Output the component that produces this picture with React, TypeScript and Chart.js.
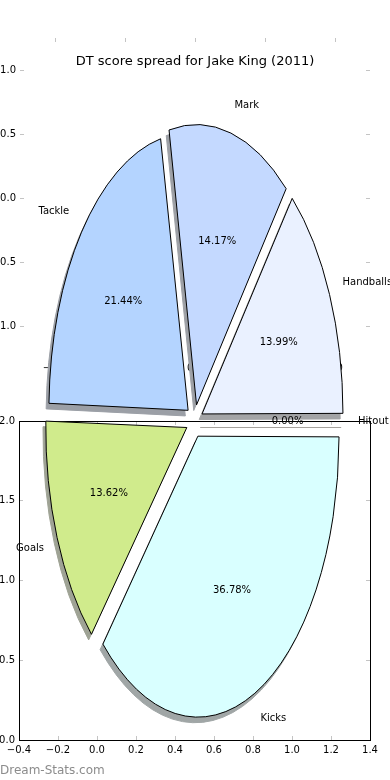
import React, { useEffect, useRef } from "react";
import { Chart, registerables } from "chart.js";

Chart.register(...registerables);

// ---------------- data ----------------
const categories = ["Hitout", "Kicks", "Goals", "Tackle", "Mark", "Handballs"];
const shares = [0.0, 36.78, 13.62, 21.44, 14.17, 13.99];
const sliceColors = ["#ffe4c4", "#d9ffff", "#d0eb8c", "#b4d4ff", "#c4d9ff", "#eaf1ff"];
const explodeFraction = [0.06, 0.06, 0.06, 0.06, 0.06, 0.06];
const chartTitle = "DT score spread for Jake King (2011)";
const watermark = "Dream-Stats.com";
const lowerXTicks = [-0.4, -0.2, 0.0, 0.2, 0.4, 0.6, 0.8, 1.0, 1.2, 1.4];
const lowerYTicks = [0.0, 0.5, 1.0, 1.5, 2.0];
const upperTicks = [-1.0, -0.5, 0.0, 0.5, 1.0];

// ---------------- layout / style ----------------
const W = 390;
const H = 780;
const FONT = '"DejaVu Sans", "Liberation Sans", sans-serif';
const PIE_R = 139;
const TEXT_R_EXTRA = 2; // chart.js grows exploded arcs by ~2px; texts use the visual radius
const K = 1.99; // vertical stretch of the pie
const OFFSET_DIV = 4; // chart.js arc offset -> translation divisor
const TICK_GRAY = "#c4c4c4";

function fmt(v: number): string {
  const r = Math.round(v * 10) / 10;
  const a = Math.abs(r) < 1e-9 ? 0 : r;
  return (a < 0 ? "\u2212" : "") + Math.abs(a).toFixed(1);
}

function shade(hex: string): string {
  const n = parseInt(hex.slice(1), 16);
  const c = [(n >> 16) & 255, (n >> 8) & 255, n & 255].map((v) => Math.round(127.5 + 0.15 * v));
  return `rgb(${c[0]},${c[1]},${c[2]})`;
}

function makeScale(position: string, min: number, max: number, tickVals: number[], showLabels: boolean, size: number, border: boolean) {
  const horizontal = position === "top" || position === "bottom";
  return {
    type: "linear",
    position,
    min,
    max,
    afterBuildTicks: (s: any) => {
      s.ticks = tickVals.map((v) => ({ value: v }));
    },
    ticks: {
      display: showLabels,
      callback: (v: any) => fmt(Number(v)),
      font: { family: FONT, size: 10 },
      color: "#000",
      padding: horizontal ? 8 : 8,
      maxRotation: 0,
      minRotation: 0,
      autoSkip: false,
    },
    grid: { drawOnChartArea: false, drawTicks: true, tickLength: -4, tickColor: TICK_GRAY, tickWidth: 1 },
    border: { display: border, color: "#000", width: 1 },
    afterFit: (s: any) => {
      if (horizontal) s.height = size;
      else s.width = size;
      s.paddingLeft = 0;
      s.paddingRight = 0;
      s.paddingTop = 0;
      s.paddingBottom = 0;
    },
  };
}

function axesConfig(
  xr: [number, number],
  yr: [number, number],
  xt: number[],
  yt: number[],
  pad: { top: number; bottom: number; left: number; right: number },
  xh: number,
  yw: number,
  border: boolean
): any {
  return {
    type: "scatter",
    data: { datasets: [] },
    options: {
      responsive: false,
      animation: false,
      devicePixelRatio: 1,
      events: [],
      layout: { padding: pad, autoPadding: false },
      plugins: { legend: { display: false }, tooltip: { enabled: false }, title: { display: false } },
      scales: {
        x: makeScale("bottom", xr[0], xr[1], xt, true, xh, border),
        x2: makeScale("top", xr[0], xr[1], xt, false, 0, border),
        y: makeScale("left", yr[0], yr[1], yt, true, yw, border),
        y2: makeScale("right", yr[0], yr[1], yt, false, 0, border),
      },
    },
  };
}

// stretch the pie vertically while keeping stroke widths uniform
const stretchPlugin = {
  id: "stretch",
  beforeDatasetsDraw(chart: any) {
    const ctx = chart.ctx;
    const el = chart.getDatasetMeta(0).data[0];
    if (!el) return;
    const base = ctx.getTransform();
    ctx.save();
    ctx.translate(el.x, el.y);
    ctx.scale(1, K);
    ctx.translate(-el.x, -el.y);
    const orig = Object.getPrototypeOf(ctx).stroke;
    ctx.stroke = function (...args: any[]) {
      this.save();
      this.setTransform(base);
      orig.apply(this, args);
      this.restore();
    };
  },
  afterDatasetsDraw(chart: any) {
    const ctx = chart.ctx;
    delete ctx.stroke;
    ctx.restore();
  },
};

function overlayPlugin(withText: boolean, lineColors: string[]) {
  return {
    id: "pieOverlay" + (withText ? "Main" : "Shadow"),
    afterDatasetsDraw(chart: any) {
      const ctx = chart.ctx;
      const meta = chart.getDatasetMeta(0);
      const total = shares.reduce((a, b) => a + b, 0);
      ctx.save();
      meta.data.forEach((arc: any, i: number) => {
        const { x, y, startAngle, endAngle } = arc;
        const r = arc.outerRadius + TEXT_R_EXTRA;
        const mid = (startAngle + endAngle) / 2;
        const c = Math.cos(mid);
        const s = Math.sin(mid);
        const e = explodeFraction[i] * r;
        const ex = x + c * e;
        const ey = y + s * e * K;
        if (Math.abs(endAngle - startAngle) < 1e-9) {
          ctx.strokeStyle = lineColors[i];
          ctx.lineWidth = 1;
          ctx.beginPath();
          ctx.moveTo(ex, Math.round(ey) + 0.5);
          ctx.lineTo(ex + r * c, Math.round(ey + r * s * K) + 0.5);
          ctx.stroke();
        }
        if (!withText) return;
        ctx.fillStyle = "#000";
        ctx.font = `10px ${FONT}`;
        ctx.textBaseline = "middle";
        ctx.textAlign = c > 1e-9 ? "left" : "right";
        ctx.fillText(categories[i], ex + 1.1 * r * c, ey + 1.1 * r * s * K);
        ctx.textAlign = "center";
        ctx.fillText(((shares[i] / total) * 100).toFixed(2) + "%", ex + 0.6 * r * c, ey + 0.6 * r * s * K);
      });
      if (withText) {
        ctx.fillStyle = "#000";
        ctx.font = `13px ${FONT}`;
        ctx.textAlign = "center";
        ctx.textBaseline = "middle";
        ctx.fillText(chartTitle, 195, 62);
        ctx.fillStyle = "#8c8c8c";
        ctx.font = `12px ${FONT}`;
        ctx.textAlign = "left";
        ctx.textBaseline = "alphabetic";
        ctx.fillText(watermark, 0, 774);
      }
      ctx.restore();
    },
  };
}

function pieConfig(colors: string[], border: string[], pad: any, withText: boolean): any {
  return {
    type: "pie",
    data: {
      labels: categories,
      datasets: [
        {
          data: shares,
          backgroundColor: colors,
          borderColor: border,
          borderWidth: 1,
          borderJoinStyle: "miter",
          offset: explodeFraction.map((f) => f * PIE_R * OFFSET_DIV),
          hoverOffset: 0,
          clip: false,
        },
      ],
    },
    options: {
      responsive: false,
      animation: false,
      devicePixelRatio: 1,
      events: [],
      rotation: 90,
      radius: PIE_R,
      layout: { padding: pad, autoPadding: false },
      plugins: { legend: { display: false }, tooltip: { enabled: false }, title: { display: false } },
    },
    plugins: [stretchPlugin, overlayPlugin(withText, border)],
  };
}

export default function App() {
  const ghostRef = useRef<HTMLCanvasElement>(null);
  const lowerRef = useRef<HTMLCanvasElement>(null);
  const shadowRef = useRef<HTMLCanvasElement>(null);
  const pieRef = useRef<HTMLCanvasElement>(null);

  useEffect(() => {
    const charts: Chart[] = [];
    charts.push(
      new Chart(
        ghostRef.current as HTMLCanvasElement,
        axesConfig([-1.25, 1.25], [-1.25, 1.25], upperTicks, upperTicks, { top: 38, bottom: 392, left: 0, right: 20 }, 30, 20, false)
      )
    );
    charts.push(
      new Chart(
        lowerRef.current as HTMLCanvasElement,
        axesConfig([-0.4, 1.4], [0, 2], lowerXTicks, lowerYTicks, { top: 421, bottom: 0, left: 0, right: 20 }, 40, 19, true)
      )
    );
    const shadowCols = sliceColors.map(shade);
    charts.push(
      new Chart(
        shadowRef.current as HTMLCanvasElement,
        pieConfig(shadowCols, shadowCols, { top: 73.2, bottom: 0, left: 0, right: 6.6 }, false)
      )
    );
    charts.push(
      new Chart(
        pieRef.current as HTMLCanvasElement,
        pieConfig(sliceColors, sliceColors.map(() => "#000"), { top: 62, bottom: 0, left: 0, right: 1 }, true)
      )
    );
    return () => charts.forEach((c) => c.destroy());
  }, []);

  const cs: React.CSSProperties = { position: "absolute", left: 0, top: 0, width: W, height: H };
  return (
    <div style={{ position: "fixed", left: 0, top: 0, width: W, height: H, background: "#fff", overflow: "hidden" }}>
      <canvas ref={ghostRef} width={W} height={H} style={cs} />
      <canvas ref={lowerRef} width={W} height={H} style={cs} />
      <canvas ref={shadowRef} width={W} height={H} style={cs} />
      <canvas ref={pieRef} width={W} height={H} style={cs} />
    </div>
  );
}
